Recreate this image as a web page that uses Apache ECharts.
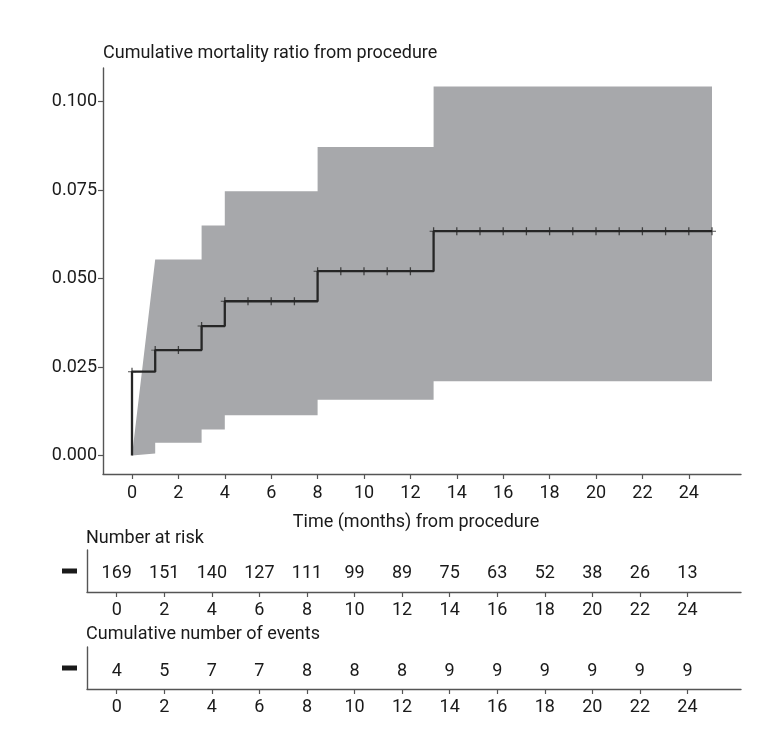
<!DOCTYPE html>
<html>
<head>
<meta charset="utf-8">
<script src="https://cdn.jsdelivr.net/npm/echarts@6/dist/echarts.min.js"></script>
<style>html,body{margin:0;padding:0;background:#fff}#c{width:765px;height:733px}</style>
</head>
<body>
<div id="c"></div>
<script>
// ---- data ----
var kmTimes = [0, 1, 3, 4, 8, 13];
var kmValues = [0.0237, 0.0298, 0.0366, 0.0436, 0.0521, 0.0634];
var kmEndTime = 25;
var censorTimes = [0,1,2,3,4,5,6,7,8,9,10,11,12,13,14,15,16,17,18,19,20,21,22,23,24,25];
var ciUpperEdge = [[0,0],[1,0.0554],[3,0.0554],[3,0.0650],[4,0.0650],[4,0.0747],[8,0.0747],[8,0.0872],[13,0.0872],[13,0.1043],[25,0.1043]];
var ciLowerEdge = [[0,0],[1,0.0006],[1,0.0036],[3,0.0036],[3,0.0074],[4,0.0074],[4,0.0114],[8,0.0114],[8,0.0158],[13,0.0158],[13,0.0210],[25,0.0210]];
var xTicks = [0,2,4,6,8,10,12,14,16,18,20,22,24];
var yTicks = [0, 0.025, 0.05, 0.075, 0.1];
var riskTimes = [0,2,4,6,8,10,12,14,16,18,20,22,24];
var nRisk = [169,151,140,127,111,99,89,75,63,52,38,26,13];
var nEvents = [4,5,7,7,8,8,8,9,9,9,9,9,9];

// ---- build chart ----
var FONT = "Roboto, 'DejaVu Sans Condensed', sans-serif";
var FS = 18;
var TXT = '#1a1a1a';
var AX = '#555555';

function kmValueAt(t) {
  var v = 0;
  for (var i = 0; i < kmTimes.length; i++) if (kmTimes[i] <= t) v = kmValues[i];
  return v;
}
var kmLine = [[0, 0]];
for (var i = 0; i < kmTimes.length; i++) kmLine.push([kmTimes[i], kmValues[i]]);
kmLine.push([kmEndTime, kmValues[kmValues.length - 1]]);
var censorPts = censorTimes.map(function (t) { return [t, kmValueAt(t)]; });

var xRange = {min: -1.25, max: 26.25};
function xAxisCfg(grid, margin) {
  return {
    type: 'value', gridIndex: grid, min: xRange.min, max: xRange.max,
    axisLine: {show: true, onZero: false, lineStyle: {color: AX, width: 1.4}},
    axisTick: {show: true, length: 5, customValues: xTicks, lineStyle: {color: AX, width: 1.2}},
    axisLabel: {customValues: xTicks, fontFamily: FONT, fontSize: FS, color: TXT, margin: margin},
    splitLine: {show: false}
  };
}
var xMain = xAxisCfg(0, 10);
xMain.name = 'Time (months) from procedure';
xMain.nameLocation = 'middle';
xMain.nameGap = 39;
xMain.nameTextStyle = {fontFamily: FONT, fontSize: FS, color: TXT, padding: [0, 12, 0, 0]};

function tableY(grid) {
  return {
    type: 'category', gridIndex: grid, data: ['All'],
    axisLine: {show: true, onZero: false, lineStyle: {color: AX, width: 1.4}},
    axisTick: {show: false},
    axisLabel: {
      margin: 10,
      formatter: function () { return '{bar| }'; },
      rich: {bar: {width: 15, height: 5, backgroundColor: '#1a1a1a', fontSize: 1}}
    }
  };
}
function tableSeries(grid, values, dy) {
  return {
    type: 'custom', xAxisIndex: grid, yAxisIndex: grid, silent: true,
    data: riskTimes.map(function (t, i) { return [t, 0, values[i]]; }),
    renderItem: function (params, api) {
      var p = api.coord([api.value(0), api.value(1)]);
      return {type: 'text', x: p[0], y: p[1] + dy,
        style: {text: String(api.value(2)), fontFamily: FONT, fontSize: FS, fill: TXT,
          align: 'center', verticalAlign: 'middle'}};
    }
  };
}

var chart = echarts.init(document.getElementById('c'), null, {renderer: 'canvas'});
chart.setOption({
  animation: false,
  backgroundColor: '#ffffff',
  title: [
    {text: 'Number at risk', left: 86, top: 529, textStyle: {fontFamily: FONT, fontSize: FS, fontWeight: 'normal', color: TXT}, padding: 0},
    {text: 'Cumulative number of events', left: 86, top: 625, textStyle: {fontFamily: FONT, fontSize: FS, fontWeight: 'normal', color: TXT}, padding: 0}
  ],
  grid: [
    {left: 103, right: 24, top: 68, bottom: 259},
    {left: 87, right: 24, top: 550, bottom: 141},
    {left: 87, right: 24, top: 647, bottom: 44}
  ],
  xAxis: [xMain, xAxisCfg(1, 9), xAxisCfg(2, 9)],
  yAxis: [
    {
      type: 'value', gridIndex: 0, min: -0.0052, max: 0.1095,
      name: 'Cumulative mortality ratio from procedure', nameLocation: 'end', nameGap: 6,
      nameTextStyle: {fontFamily: FONT, fontSize: FS, color: TXT, align: 'left', verticalAlign: 'bottom'},
      axisLine: {show: true, onZero: false, lineStyle: {color: AX, width: 1.4}},
      axisTick: {show: true, length: 5, customValues: yTicks, lineStyle: {color: AX, width: 1.2}},
      axisLabel: {customValues: yTicks, fontFamily: FONT, fontSize: FS, color: TXT, margin: 6,
        formatter: function (v) { return v.toFixed(3); }},
      splitLine: {show: false}
    },
    tableY(1), tableY(2)
  ],
  series: [
    {
      type: 'custom', xAxisIndex: 0, yAxisIndex: 0, silent: true, z: 1,
      data: [[0, 0]],
      renderItem: function (params, api) {
        var pts = ciUpperEdge.map(function (p) { return api.coord(p); });
        for (var k = ciLowerEdge.length - 1; k >= 0; k--) pts.push(api.coord(ciLowerEdge[k]));
        return {type: 'polygon', shape: {points: pts}, style: {fill: '#a7a8ab'}};
      }
    },
    {
      type: 'line', xAxisIndex: 0, yAxisIndex: 0, step: 'end', data: kmLine, showSymbol: false, z: 3,
      lineStyle: {color: '#262626', width: 2.3}
    },
    {
      type: 'scatter', xAxisIndex: 0, yAxisIndex: 0, data: censorPts, z: 4,
      symbol: 'path://M-0.16,-1L0.16,-1L0.16,-0.12L1,-0.12L1,0.12L0.16,0.12L0.16,1L-0.16,1L-0.16,0.12L-1,0.12L-1,-0.12L-0.16,-0.12Z',
      symbolSize: 8, itemStyle: {color: '#262626'}
    },
    tableSeries(1, nRisk, 2),
    tableSeries(2, nEvents, 3)
  ]
});
</script>
</body>
</html>
